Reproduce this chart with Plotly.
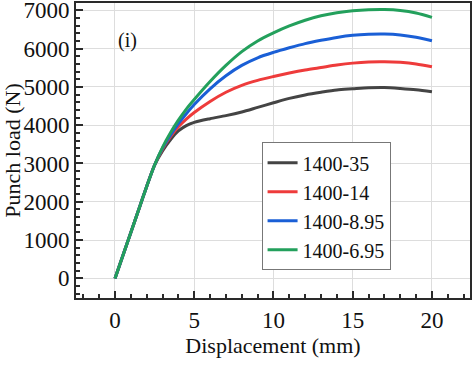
import plotly.graph_objects as go

# ---- data ----
x_common = [0, 0.5, 1.0, 1.5, 2.0, 2.5]
y_common = [0, 600, 1200, 1800, 2400, 2960]

x_tail = [3.0, 3.5, 4.0, 4.5, 5, 6, 7, 8, 9, 10, 11, 12, 13, 14, 15, 16, 17, 18, 19, 20]

y_1400_35 = [3330, 3620, 3850, 3990, 4075, 4170, 4250, 4345, 4465, 4585, 4700, 4790, 4860, 4920, 4950, 4978, 4985, 4960, 4925, 4870]
y_1400_14 = [3380, 3700, 3960, 4160, 4330, 4620, 4860, 5040, 5170, 5270, 5360, 5440, 5505, 5570, 5620, 5650, 5655, 5640, 5600, 5525]
y_1400_895 = [3400, 3740, 4040, 4300, 4540, 4950, 5290, 5560, 5760, 5900, 6020, 6130, 6215, 6290, 6345, 6372, 6378, 6355, 6295, 6205]
y_1400_695 = [3420, 3800, 4130, 4420, 4670, 5140, 5560, 5920, 6200, 6410, 6590, 6740, 6855, 6935, 6985, 7012, 7018, 6995, 6930, 6815]

names = ["1400-35", "1400-14", "1400-8.95", "1400-6.95"]
series = [y_1400_35, y_1400_14, y_1400_895, y_1400_695]
colors = ["#444444", "#ee3b3b", "#1a5fd6", "#23a05c"]

x_ticks = [0, 5, 10, 15, 20]
y_ticks = [0, 1000, 2000, 3000, 4000, 5000, 6000, 7000]

FONT = "Liberation Serif"

fig = go.Figure()
for name, ys, col in zip(names, series, colors):
    fig.add_trace(go.Scatter(
        x=x_common + x_tail, y=y_common + ys, mode="lines", name=name,
        line=dict(color=col, width=3, shape="spline", smoothing=0.8),
    ))

fig.add_annotation(x=0.76, y=6220, xref="x", yref="y", text="(i)", showarrow=False,
                   font=dict(family=FONT, size=20, color="#111111"))

axis_common = dict(
    showline=True, linecolor="#2a2a2a", linewidth=2, mirror=True,
    ticks="inside", ticklen=7, tickwidth=1.5, tickcolor="#2a2a2a",
    showgrid=True, gridcolor="#dddddd", gridwidth=1,
    zeroline=False, automargin=False, ticklabeloverflow="allow",
    tickfont=dict(family=FONT, size=23, color="#111111"),
)

fig.update_xaxes(
    **axis_common, range=[-2.46, 22.4], tickvals=x_ticks,
    minor=dict(dtick=1, tick0=0, ticks="inside", ticklen=4, tickcolor="#2a2a2a", showgrid=False),
    title=dict(text="Displacement (mm)", font=dict(family=FONT, size=22, color="#111111"), standoff=6),
)
fig.update_yaxes(
    **axis_common, range=[-512, 7190], tickvals=y_ticks,
    minor=dict(dtick=200, tick0=0, ticks="inside", ticklen=4, tickcolor="#2a2a2a", showgrid=False),
    title=dict(text="Punch load (N)", font=dict(family=FONT, size=22, color="#111111"), standoff=2),
)

fig.update_layout(
    width=474, height=367,
    margin=dict(l=76, r=4, t=3, b=69),
    plot_bgcolor="white", paper_bgcolor="white",
    legend=dict(
        x=0.471, y=0.528, xanchor="left", yanchor="top",
        bgcolor="white", bordercolor="#777777", borderwidth=1,
        font=dict(family=FONT, size=20, color="#111111"),
        tracegroupgap=0,
    ),
    showlegend=True,
)

fig.write_html("out.html", config={"displayModeBar": False},
               post_script="document.body.style.margin='0';")
